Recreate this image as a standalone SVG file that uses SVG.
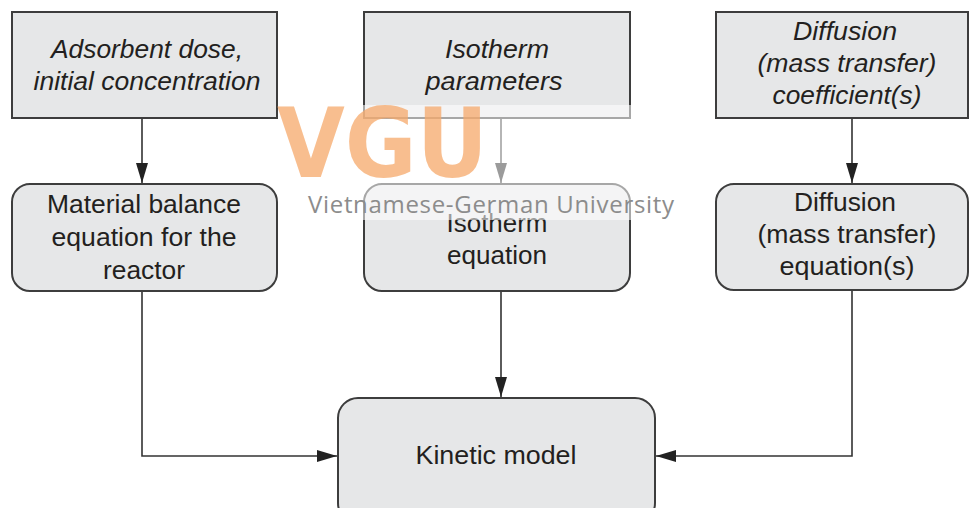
<svg xmlns="http://www.w3.org/2000/svg" width="970" height="508" viewBox="0 0 970 508">
<defs>
<style>
.box{fill:#e6e7e8;stroke:#3d3d3d;stroke-width:2}
.t{font-family:"Liberation Sans",Arial,sans-serif;font-size:25px;fill:#231f20;text-anchor:middle}
.i{font-style:italic}
.c{fill:none;stroke:#333;stroke-width:1.6}
</style>
<marker id="ah" viewBox="0 0 20 12" refX="20" refY="6" markerWidth="20" markerHeight="12" markerUnits="userSpaceOnUse" orient="auto">
<path d="M0,0 L20,6 L0,12 Z" fill="#222"/>
</marker>
</defs>
<rect width="970" height="508" fill="#ffffff"/>
<g id="connectors">
<path class="c" d="M142,119 V183" marker-end="url(#ah)"/>
<path class="c" d="M501,119 V183" marker-end="url(#ah)"/>
<path class="c" d="M852,119 V183" marker-end="url(#ah)"/>
<path class="c" d="M142,291 V456 H337" marker-end="url(#ah)"/>
<path class="c" d="M501,291 V397" marker-end="url(#ah)"/>
<path class="c" d="M852,291 V456 H656" marker-end="url(#ah)"/>
</g>
<g id="n-adsorbent">
<rect class="box" x="12" y="12" width="265" height="106"/>
<text class="t i" x="147" y="58" textLength="192" lengthAdjust="spacingAndGlyphs">Adsorbent dose,</text>
<text class="t i" x="147" y="90" textLength="227" lengthAdjust="spacingAndGlyphs">initial concentration</text>
</g>
<g id="n-isoparam">
<rect class="box" x="364" y="12" width="266" height="106"/>
<text class="t i" x="497" y="58" textLength="104" lengthAdjust="spacingAndGlyphs">Isotherm</text>
<text class="t i" x="494" y="90" textLength="137" lengthAdjust="spacingAndGlyphs">parameters</text>
</g>
<g id="n-diffcoef">
<rect class="box" x="716" y="12" width="252" height="106"/>
<text class="t i" x="845" y="40" textLength="104" lengthAdjust="spacingAndGlyphs">Diffusion</text>
<text class="t i" x="847" y="72" textLength="179" lengthAdjust="spacingAndGlyphs">(mass transfer)</text>
<text class="t i" x="847" y="104" textLength="149" lengthAdjust="spacingAndGlyphs">coefficient(s)</text>
</g>
<g id="n-material">
<rect class="box" x="12" y="184" width="265" height="107" rx="18"/>
<text class="t" x="144" y="213" textLength="194" lengthAdjust="spacingAndGlyphs">Material balance</text>
<text class="t" x="144" y="246" textLength="185" lengthAdjust="spacingAndGlyphs">equation for the</text>
<text class="t" x="144" y="279" textLength="82" lengthAdjust="spacingAndGlyphs">reactor</text>
</g>
<g id="n-isoeq">
<rect class="box" x="364" y="184" width="266" height="107" rx="18"/>
<text class="t" x="497" y="232" textLength="101" lengthAdjust="spacingAndGlyphs">Isotherm</text>
<text class="t" x="497" y="264" textLength="100" lengthAdjust="spacingAndGlyphs">equation</text>
</g>
<g id="n-diffeq">
<rect class="box" x="716" y="184" width="252" height="106" rx="18"/>
<text class="t" x="845" y="211" textLength="102" lengthAdjust="spacingAndGlyphs">Diffusion</text>
<text class="t" x="847" y="243" textLength="179" lengthAdjust="spacingAndGlyphs">(mass transfer)</text>
<text class="t" x="847" y="275" textLength="135" lengthAdjust="spacingAndGlyphs">equation(s)</text>
</g>
<g id="n-kinetic">
<rect class="box" x="338" y="398" width="317" height="125" rx="20"/>
<text class="t" x="496" y="464" textLength="161" lengthAdjust="spacingAndGlyphs">Kinetic model</text>
</g>
<g id="watermark">
<rect x="278" y="105" width="354" height="115" fill="#ffffff" fill-opacity="0.55"/>
<text x="277" y="177" font-family="DejaVu Sans" font-weight="bold" font-size="96" fill="#f5a86a" fill-opacity="0.75" textLength="211" lengthAdjust="spacingAndGlyphs">VGU</text>
<text x="308" y="213" font-family="'Open Sans','DejaVu Sans',sans-serif" font-size="24" fill="#8c8c8c" textLength="366" lengthAdjust="spacing">Vietnamese-German University</text>
</g>
</svg>
